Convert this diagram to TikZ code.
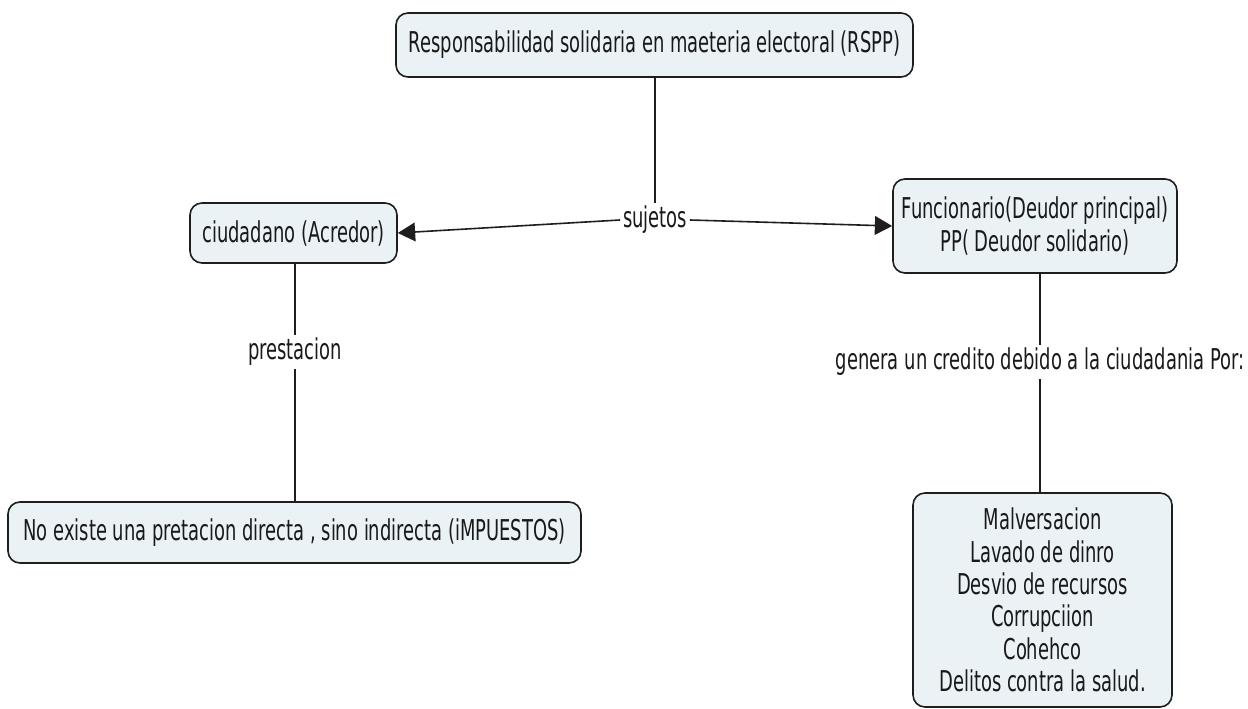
\documentclass[tikz,border=0pt]{standalone}
\usepackage{fontspec}
\setmainfont{DejaVu Sans}[FakeStretch=0.625]
\usetikzlibrary{arrows.meta}
\definecolor{boxfill}{RGB}{234,242,245}
\definecolor{boxline}{RGB}{30,30,30}
\definecolor{txt}{RGB}{25,25,25}
\tikzset{
  concept/.style={draw=boxline, line width=1.2pt, fill=boxfill, rounded corners=9pt,
    inner sep=0pt, align=center, text=txt, font=\fontsize{21.5}{24.3}\selectfont},
  linklabel/.style={inner sep=2pt, text=txt, font=\fontsize{21.5}{24.3}\selectfont},
  conn/.style={line width=1.2pt, draw=boxline},
  arr/.style={conn, -{Triangle[length=13pt,width=14pt]}}
}
\begin{document}
\begin{tikzpicture}[x=0.75pt,y=-0.75pt]
\useasboundingbox (0,0) rectangle (1248,709);
\node[concept, minimum width=517*0.75pt, minimum height=64*0.75pt] (top) at (654.5,45)
  {Responsabilidad solidaria en maeteria electoral (RSPP)};
\node[concept, minimum width=207*0.75pt, minimum height=60*0.75pt] (ciud) at (293.5,233)
  {ciudadano (Acredor)};
\node[concept, minimum width=284*0.75pt, minimum height=94*0.75pt] (func) at (1035,226)
  {Funcionario(Deudor principal)\\PP( Deudor solidario)};
\node[concept, minimum width=573*0.75pt, minimum height=61*0.75pt] (noex) at (294.5,532.5)
  {No existe una pretacion directa , sino indirecta (iMPUESTOS)};
\node[concept, minimum width=259*0.75pt, minimum height=214*0.75pt] (mal) at (1042.5,600)
  {Malversacion\\Lavado de dinro\\Desvio de recursos\\Corrupciion\\Cohehco\\Delitos contra la salud.};
\node[linklabel] (suj) at (655,220) {sujetos};
\node[linklabel] (pres) at (295,352) {prestacion};
\node[linklabel] (gen) at (1040,362) {genera un credito debido a la ciudadania Por:};
\draw[conn] (top.south -| suj.north) -- (suj.north);
\draw[arr] (suj.west) -- (ciud.east);
\draw[arr] (suj.east) -- (func.west);
\draw[conn] (ciud.south -| pres.north) -- (pres.north);
\draw[conn] (pres.south) -- (noex.north -| pres.south);
\draw[conn] (func.south -| gen.north) -- (gen.north);
\draw[conn] (gen.south) -- (mal.north -| gen.south);
\end{tikzpicture}
\end{document}
